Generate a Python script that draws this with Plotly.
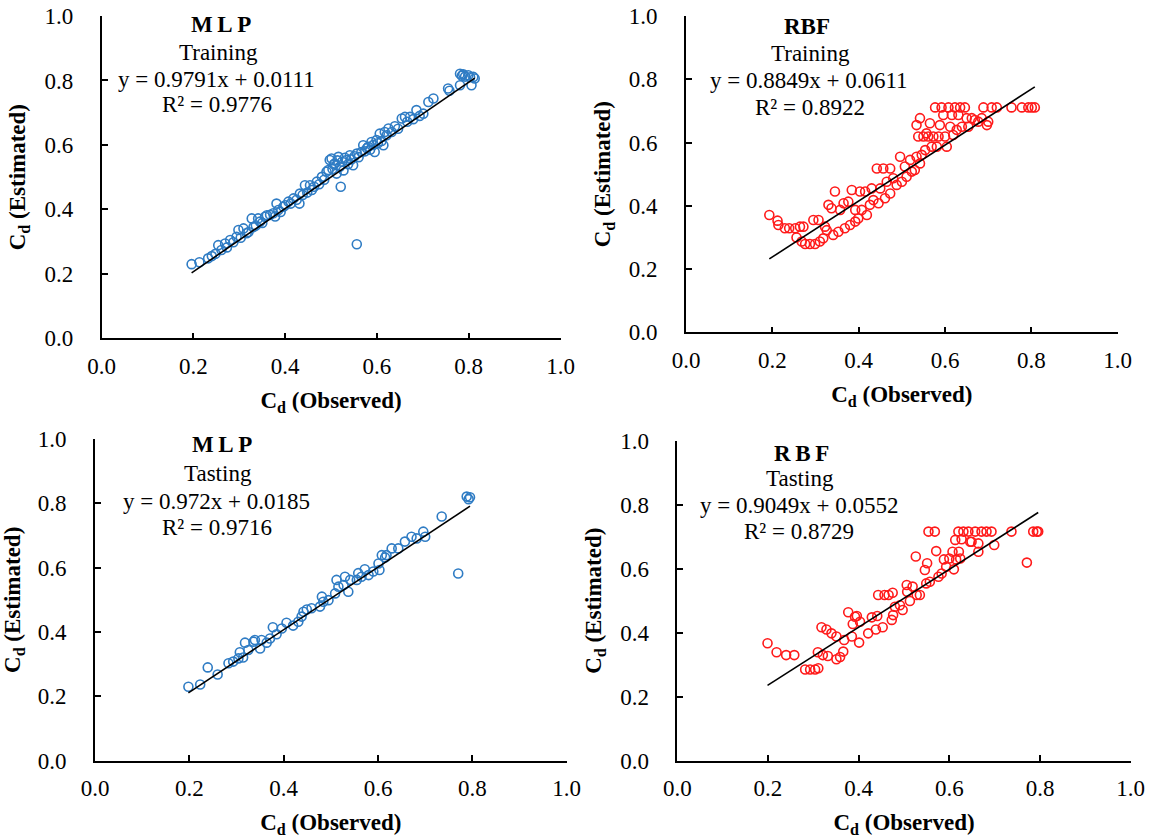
import plotly.graph_objects as go

W, H = 1150, 840

# ---------------- data ----------------
mlp_train_obs = [0.196,0.213,0.232,0.240,0.248,0.254,0.261,0.269,0.273,0.280,0.287,0.294,0.298,0.303,0.309,0.316,0.320,0.327,0.331,0.336,0.341,0.345,0.350,0.356,0.360,0.367,0.374,0.378,0.381,0.385,0.390,0.396,0.400,0.407,0.412,0.418,0.425,0.431,0.432,0.438,0.443,0.448,0.454,0.458,0.463,0.469,0.474,0.480,0.485,0.490,0.494,0.497,0.501,0.503,0.506,0.508,0.512,0.514,0.516,0.519,0.521,0.524,0.527,0.530,0.534,0.537,0.541,0.544,0.548,0.551,0.556,0.556,0.560,0.566,0.570,0.574,0.578,0.581,0.585,0.588,0.592,0.595,0.599,0.602,0.606,0.610,0.614,0.617,0.621,0.625,0.632,0.639,0.646,0.654,0.661,0.666,0.672,0.679,0.686,0.693,0.701,0.712,0.723,0.755,0.758,0.781,0.781,0.785,0.788,0.792,0.799,0.803,0.806,0.810,0.813]
mlp_train_est = [0.230,0.236,0.248,0.255,0.262,0.289,0.274,0.294,0.282,0.305,0.298,0.315,0.336,0.312,0.341,0.326,0.330,0.372,0.345,0.350,0.372,0.362,0.358,0.377,0.382,0.383,0.388,0.378,0.418,0.398,0.392,0.408,0.413,0.424,0.418,0.434,0.430,0.418,0.449,0.445,0.475,0.452,0.475,0.460,0.470,0.486,0.478,0.501,0.492,0.517,0.522,0.553,0.558,0.525,0.540,0.542,0.511,0.552,0.563,0.532,0.470,0.548,0.521,0.560,0.553,0.540,0.568,0.555,0.537,0.565,0.292,0.573,0.562,0.578,0.599,0.580,0.590,0.594,0.585,0.609,0.600,0.578,0.615,0.605,0.635,0.612,0.599,0.640,0.630,0.651,0.640,0.658,0.650,0.682,0.687,0.672,0.687,0.680,0.708,0.690,0.697,0.733,0.744,0.775,0.768,0.785,0.821,0.815,0.819,0.812,0.816,0.810,0.785,0.811,0.806]

rbf_train_obs = [0.193,0.212,0.214,0.229,0.239,0.253,0.264,0.272,0.256,0.268,0.276,0.287,0.299,0.295,0.307,0.310,0.318,0.322,0.326,0.330,0.337,0.341,0.345,0.353,0.357,0.365,0.368,0.376,0.380,0.384,0.392,0.392,0.399,0.403,0.407,0.415,0.419,0.426,0.430,0.434,0.442,0.446,0.450,0.457,0.461,0.465,0.473,0.473,0.480,0.488,0.496,0.500,0.507,0.511,0.519,0.523,0.530,0.534,0.534,0.538,0.542,0.542,0.546,0.550,0.554,0.557,0.561,0.565,0.569,0.573,0.577,0.581,0.585,0.588,0.592,0.596,0.600,0.604,0.608,0.612,0.616,0.619,0.623,0.627,0.631,0.635,0.639,0.646,0.650,0.654,0.662,0.669,0.677,0.685,0.689,0.697,0.700,0.708,0.720,0.754,0.778,0.793,0.801,0.808]
rbf_train_est = [0.371,0.353,0.339,0.329,0.329,0.329,0.334,0.334,0.300,0.287,0.279,0.279,0.279,0.355,0.355,0.287,0.297,0.334,0.323,0.403,0.392,0.308,0.445,0.318,0.387,0.408,0.329,0.413,0.339,0.450,0.350,0.387,0.360,0.445,0.387,0.445,0.371,0.403,0.455,0.418,0.518,0.408,0.455,0.518,0.424,0.476,0.518,0.439,0.487,0.466,0.555,0.476,0.524,0.492,0.545,0.508,0.513,0.555,0.655,0.619,0.677,0.534,0.561,0.619,0.576,0.629,0.619,0.661,0.587,0.619,0.711,0.587,0.619,0.655,0.711,0.687,0.619,0.587,0.711,0.650,0.687,0.624,0.711,0.640,0.687,0.711,0.650,0.711,0.677,0.650,0.677,0.671,0.666,0.677,0.711,0.655,0.666,0.711,0.711,0.711,0.711,0.711,0.711,0.711]

mlp_test_obs = [0.198,0.223,0.239,0.260,0.283,0.293,0.304,0.307,0.314,0.318,0.325,0.336,0.339,0.350,0.353,0.364,0.371,0.377,0.385,0.396,0.406,0.420,0.431,0.438,0.442,0.449,0.459,0.477,0.481,0.484,0.495,0.509,0.512,0.516,0.527,0.530,0.537,0.541,0.555,0.558,0.565,0.572,0.580,0.590,0.601,0.603,0.608,0.615,0.618,0.629,0.643,0.657,0.671,0.682,0.696,0.700,0.735,0.770,0.788,0.795,0.792]
mlp_test_est = [0.230,0.237,0.290,0.268,0.303,0.308,0.318,0.337,0.321,0.367,0.344,0.370,0.375,0.349,0.375,0.367,0.380,0.415,0.393,0.411,0.429,0.420,0.432,0.448,0.463,0.470,0.474,0.479,0.510,0.494,0.499,0.520,0.562,0.541,0.546,0.572,0.525,0.562,0.562,0.583,0.572,0.595,0.577,0.588,0.613,0.593,0.639,0.632,0.639,0.660,0.660,0.681,0.696,0.691,0.712,0.696,0.759,0.582,0.821,0.819,0.813]

rbf_test_obs = [0.199,0.219,0.240,0.258,0.282,0.293,0.304,0.311,0.310,0.318,0.321,0.329,0.332,0.340,0.351,0.351,0.359,0.366,0.368,0.377,0.385,0.387,0.392,0.396,0.401,0.403,0.421,0.429,0.438,0.441,0.443,0.453,0.457,0.466,0.473,0.475,0.476,0.480,0.491,0.497,0.506,0.507,0.513,0.519,0.526,0.528,0.535,0.546,0.549,0.551,0.554,0.557,0.568,0.571,0.576,0.583,0.588,0.593,0.600,0.607,0.610,0.613,0.615,0.620,0.621,0.624,0.627,0.631,0.642,0.646,0.649,0.657,0.664,0.664,0.671,0.682,0.693,0.699,0.737,0.771,0.785,0.793,0.796]
rbf_test_est = [0.367,0.339,0.330,0.330,0.285,0.285,0.285,0.289,0.339,0.417,0.330,0.410,0.327,0.398,0.388,0.317,0.324,0.341,0.377,0.464,0.388,0.427,0.450,0.452,0.369,0.434,0.398,0.448,0.410,0.452,0.518,0.417,0.518,0.518,0.440,0.525,0.455,0.481,0.486,0.471,0.549,0.528,0.499,0.544,0.638,0.518,0.518,0.596,0.554,0.617,0.716,0.559,0.716,0.655,0.575,0.585,0.629,0.606,0.632,0.653,0.598,0.690,0.629,0.716,0.653,0.632,0.692,0.716,0.716,0.684,0.684,0.716,0.679,0.653,0.716,0.716,0.716,0.674,0.716,0.619,0.716,0.716,0.716]

model_names = ["M\u2009L\u2009P", "RBF", "M\u2009L\u2009P", "R\u2009B\u2009F"]
phase_names = ["Training", "Training", "Tasting", "Tasting"]
slopes = [0.9791, 0.8849, 0.972, 0.9049]
intercepts = [0.0111, 0.0611, 0.0185, 0.0552]
r2_values = ["0.9776", "0.8922", "0.9716", "0.8729"]
tick_vals = [0.0, 0.2, 0.4, 0.6, 0.8, 1.0]
tick_text = ["0.0", "0.2", "0.4", "0.6", "0.8", "1.0"]

series = [
    (mlp_train_obs, mlp_train_est, "#2F7CC4"),
    (rbf_train_obs, rbf_train_est, "#FF1A1A"),
    (mlp_test_obs, mlp_test_est, "#2F7CC4"),
    (rbf_test_obs, rbf_test_est, "#FF1A1A"),
]

# ---------------- layout (pixel boxes) ----------------
boxes = [
    (101.7, 560.5, 16.0, 338.3),
    (686.0, 1117.7, 16.0, 332.3),
    (95.0, 566.7, 439.0, 760.7),
    (677.3, 1130.7, 440.7, 760.7),
]
ann_pos = [
    (220.5, 24, 218, 52, 216.7, 79, 217, 104),
    (807, 26, 810.7, 53, 808.7, 80, 810, 107),
    (221.7, 444, 217.5, 473, 216.3, 501, 216.7, 527),
    (801.3, 453, 800, 478, 798.8, 505, 798.7, 531),
]

FONT = "Liberation Serif"
FS = 23
fig = go.Figure()
layout = dict(
    width=W, height=H,
    margin=dict(l=0, r=0, t=0, b=0),
    paper_bgcolor="white", plot_bgcolor="white",
    showlegend=False,
    font=dict(family=FONT, size=FS, color="black"),
)
annotations = []

for i, ((xs, ys, col), (l, r, t, b)) in enumerate(zip(series, boxes)):
    n = "" if i == 0 else str(i + 1)
    xa, ya = "x" + n, "y" + n
    fig.add_trace(go.Scatter(
        x=xs, y=ys, mode="markers", xaxis=xa, yaxis=ya,
        marker=dict(symbol="circle-open", size=9, color=col, line=dict(width=1.6, color=col)),
        hoverinfo="skip",
    ))
    x0, x1 = min(xs), max(xs)
    fig.add_trace(go.Scatter(
        x=[x0, x1], y=[slopes[i] * x0 + intercepts[i], slopes[i] * x1 + intercepts[i]],
        mode="lines", xaxis=xa, yaxis=ya, line=dict(color="black", width=1.6),
        hoverinfo="skip",
    ))
    common = dict(
        range=[0, 1.0], tickvals=tick_vals, ticktext=tick_text,
        showgrid=False, zeroline=False, showline=True, linecolor="black", linewidth=1.6,
        ticks="inside", ticklen=6, tickwidth=1.5, tickcolor="black",
        tickfont=dict(family=FONT, size=FS, color="black"),
        automargin=False, fixedrange=True,
    )
    layout["xaxis" + n] = dict(
        common, domain=[l / W, r / W], anchor=ya, ticklabelstandoff=6,
        title=dict(text="<b>C<sub>d</sub> (Observed)</b>", font=dict(family=FONT, size=FS), standoff=14),
    )
    layout["yaxis" + n] = dict(
        common, domain=[1 - b / H, 1 - t / H], anchor=xa, ticklabelstandoff=22,
        title=dict(text="<b>C<sub>d</sub> (Estimated)</b>", font=dict(family=FONT, size=FS), standoff=12),
    )
    p = ann_pos[i]
    texts = [
        ("<b>%s</b>" % model_names[i], p[0], p[1]),
        (phase_names[i], p[2], p[3]),
        ("y = %sx + %s" % (slopes[i], intercepts[i]), p[4], p[5]),
        ("R\u00b2 = %s" % r2_values[i], p[6], p[7]),
    ]
    for txt, px, py in texts:
        annotations.append(dict(
            text=txt, x=px / W, y=1 - py / H, xref="paper", yref="paper",
            xanchor="center", yanchor="middle", showarrow=False,
            font=dict(family=FONT, size=FS, color="black"),
        ))

layout["annotations"] = annotations
fig.update_layout(**layout)
fig.write_html(
    "out.html",
    config={"displayModeBar": False},
    post_script="document.body.style.margin='0';document.body.style.overflow='hidden';",
)
